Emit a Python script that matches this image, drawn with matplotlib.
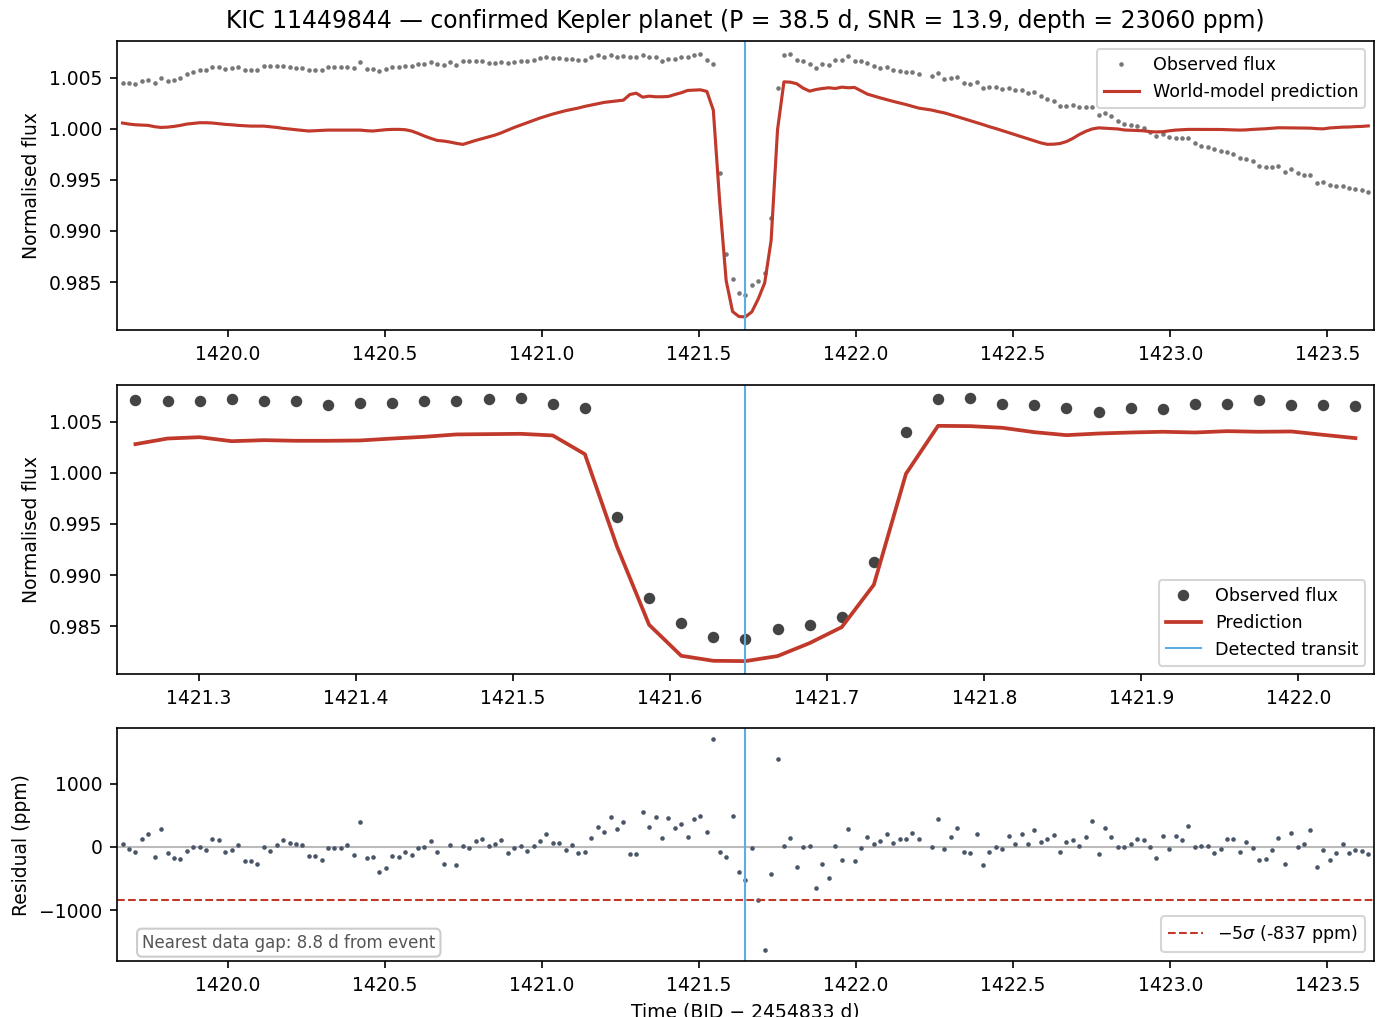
import matplotlib
matplotlib.use("Agg")
import matplotlib.pyplot as plt
import numpy as np

# Kepler long cadence around the detected event
T0 = 1421.648
CADENCE = 0.020434
cadence_index = np.arange(-97, 98)

obs_flux = [
    1.00444, 1.00444, 1.00441, 1.00467, 1.00480, 1.00444, 1.00496, 1.00467, 1.00477, 1.00499,
    1.00535, 1.00558, 1.00574, 1.00577, 1.00607, 1.00607, 1.00584, 1.00591, 1.00604, 1.00574,
    1.00574, 1.00574, 1.00614, 1.00610, 1.00617, 1.00614, 1.00601, 1.00594, 1.00591, 1.00574,
    1.00574, 1.00574, 1.00601, 1.00604, 1.00604, 1.00607, 1.00591, 1.00649, 1.00584, 1.00584,
    1.00565, 1.00584, 1.00607, 1.00607, 1.00614, 1.00614, 1.00630, 1.00636, 1.00653, 1.00638,
    1.00622, 1.00656, 1.00623, 1.00659, 1.00663, 1.00666, 1.00663, 1.00646, 1.00646, 1.00656,
    1.00640, 1.00653, 1.00666, 1.00666, 1.00676, 1.00689, 1.00705, 1.00689, 1.00689, 1.00679,
    1.00686, 1.00672, 1.00676, 1.00699, 1.00718, 1.00705, 1.00721, 1.00705,
    # in / around transit
    1.00707, 1.00704, 1.00704, 1.00723, 1.00700, 1.00700, 1.00664, 1.00687, 1.00687, 1.00704,
    1.00700, 1.00726, 1.00730, 1.00677, 1.00638, 0.99567, 0.98779, 0.98531, 0.98394, 0.98375,
    0.98469, 0.98508, 0.98590, 0.99124, 1.00394, 1.00723, 1.00733, 1.00674, 1.00661, 1.00635,
    1.00590, 1.00638, 1.00625, 1.00674, 1.00668, 1.00707, 1.00664, 1.00658, 1.00648,
    # after transit
    1.00614, 1.00597, 1.00601, 1.00571, 1.00561, 1.00555, 1.00552, 1.00535, np.nan, 1.00512,
    1.00548, 1.00490, 1.00499, 1.00503, 1.00451, 1.00434, 1.00457, 1.00395, 1.00405, 1.00405,
    1.00389, 1.00402, 1.00375, 1.00375, 1.00353, 1.00362, 1.00317, 1.00291, 1.00271, 1.00225,
    1.00222, 1.00229, 1.00216, 1.00209, 1.00216, 1.00137, 1.00154, 1.00121, 1.00077, 1.00048,
    1.00036, 1.00026, 1.00004, 0.99964, 0.99925, 0.99945, 0.99922, 0.99912, 0.99906, 0.99912,
    0.99857, 0.99834, 0.99818, 0.99798, 0.99782, 0.99776, 0.99753, 0.99710, 0.99704, 0.99681,
    0.99638, 0.99625, 0.99628, 0.99635, 0.99576, 0.99609, 0.99570, 0.99547, 0.99547, 0.99469,
    0.99475, 0.99446, 0.99443, 0.99443, 0.99420, 0.99410, 0.99397, 0.99377,
]

model_flux = [
    1.00056, 1.00046, 1.00039, 1.00036, 1.00033, 1.00020, 1.00013, 1.00016, 1.00023, 1.00033,
    1.00046, 1.00052, 1.00059, 1.00059, 1.00056, 1.00049, 1.00043, 1.00039, 1.00033, 1.00030,
    1.00026, 1.00026, 1.00026, 1.00020, 1.00013, 1.00004, 0.99997, 0.99991, 0.99984, 0.99978,
    0.99981, 0.99984, 0.99987, 0.99987, 0.99987, 0.99987, 0.99987, 0.99987, 0.99981, 0.99978,
    0.99984, 0.99991, 0.99994, 0.99994, 0.99991, 0.99978, 0.99955, 0.99929, 0.99906, 0.99886,
    0.99880, 0.99870, 0.99857, 0.99847, 0.99867, 0.99886, 0.99903, 0.99919, 0.99938, 0.99961,
    0.99987, 1.00013, 1.00036, 1.00059, 1.00082, 1.00105, 1.00124, 1.00144, 1.00160, 1.00177,
    1.00190, 1.00203, 1.00219, 1.00232, 1.00245, 1.00258, 1.00265, 1.00271,
    # in / around transit
    1.00280, 1.00335, 1.00348, 1.00309, 1.00319, 1.00313, 1.00313, 1.00316, 1.00335, 1.00352,
    1.00375, 1.00378, 1.00381, 1.00365, 1.00182, 0.99280, 0.98515, 0.98212, 0.98163, 0.98160,
    0.98209, 0.98336, 0.98492, 0.98906, 0.99990, 1.00459, 1.00456, 1.00440, 1.00397, 1.00368,
    1.00384, 1.00394, 1.00401, 1.00394, 1.00407, 1.00401, 1.00404, 1.00371, 1.00339,
    # after transit
    1.00320, 1.00302, 1.00285, 1.00268, 1.00253, 1.00237, 1.00219, 1.00202, 1.00192, 1.00183,
    1.00168, 1.00155, 1.00137, 1.00118, 1.00099, 1.00080, 1.00061, 1.00041, 1.00020, 1.00002,
    0.99982, 0.99963, 0.99943, 0.99923, 0.99903, 0.99883, 0.99862, 0.99848, 0.99849, 0.99856,
    0.99875, 0.99906, 0.99944, 0.99975, 0.99998, 1.00009, 1.00005, 1.00000, 0.99998, 0.99988,
    0.99986, 0.99983, 0.99980, 0.99972, 0.99969, 0.99971, 0.99980, 0.99987, 0.99991, 0.99994,
    0.99994, 0.99994, 0.99994, 0.99994, 0.99993, 0.99991, 0.99990, 0.99987, 0.99989, 0.99994,
    0.99997, 1.00000, 1.00005, 1.00010, 1.00009, 1.00007, 1.00007, 1.00007, 1.00006, 1.00001,
    0.99999, 1.00008, 1.00012, 1.00016, 1.00017, 1.00021, 1.00023, 1.00028,
]

residual_ppm = [
    53, -37, -85, 122, 206, -153, 280, -101, -169, -190,
    -58, -5, -5, -42, 122, 116, -79, -42, 37, -228,
    -228, -270, -5, -58, 32, 111, 63, 42, 32, -138,
    -143, -206, -16, -11, -16, 37, -132, 392, -169, -153,
    -392, -333, -148, -153, -74, -127, -11, 0, 101, -79,
    -265, 37, -291, 21, -16, 95, 127, 11, 48, 106,
    -95, -16, 11, -58, 11, 95, 212, 69, 69, -53,
    26, -90, -79, 143, 317, 233, 471, 291,
    397, -106, -106, 550, 317, 471, 148, 455, 302, 360,
    159, 439, 497, 238, 1709, -74, -159, 492, -397, -524,
    -16, -831, -1635, -429, 1397, 11, 143, -323, -5, 21,
    -656, -275, -492, 21, -212, 280, -228, -16, 164,
    53, 90, 206, 58, 122, 122, 217, 132, np.nan, 0,
    444, -37, 159, 307, -74, -95, 201, -291, -74, -5,
    -26, 169, 48, 201, 48, 270, 74, 127, 185, -74,
    74, 106, 11, 153, 418, -116, 307, 153, -5, -5,
    48, 127, 116, -5, -175, 169, -37, 169, 106, 328,
    -5, 21, 21, -95, -32, 127, 122, -74, 79, -16,
    -206, -190, -42, 143, -275, 228, -5, 42, 265, -312,
    -48, -212, -101, 48, -101, -48, -63, -106,
]

sigma5_ppm = -837
gap_days = 8.8
half_window = 2.0
zoom_half_window = 0.4
zoom_points = 19

t = T0 + CADENCE * cadence_index
obs = np.array(obs_flux)
model = np.array(model_flux)
resid = np.array(residual_ppm, dtype=float)

RED = '#c0392b'
BLUE = '#5dade2'

plt.rcParams['font.family'] = 'DejaVu Sans'
plt.rcParams['font.size'] = 9

fig = plt.figure(figsize=(1379 / 150, 1017 / 150), dpi=150)
ax1 = fig.add_axes([0.0848, 0.6755, 0.9115, 0.2845])
ax2 = fig.add_axes([0.0848, 0.3370, 0.9115, 0.2848])
ax3 = fig.add_axes([0.0848, 0.0551, 0.9115, 0.2288])

# Full window
ax1.plot(t, obs, 'o', color='#777777', ms=2.2, mec='none', label='Observed flux')
ax1.plot(t, model, '-', color=RED, lw=1.5, label='World-model prediction')
ax1.axvline(T0, color=BLUE, lw=1.0)
ax1.set_xlim(T0 - half_window, T0 + half_window)
ax1.set_ylabel('Normalised flux')
ax1.set_title('KIC 11449844 \u2014 confirmed Kepler planet (P = 38.5 d, SNR = 13.9, depth = 23060 ppm)',
              fontsize=11.3)
ax1.legend(loc='upper right', fontsize=8.4)

# Zoom on the transit
sel = np.abs(cadence_index) <= zoom_points
ax2.plot(t[sel], obs[sel], 'o', color='#444444', ms=5.5, mec='none', label='Observed flux')
ax2.plot(t[sel], model[sel], '-', color=RED, lw=1.8, label='Prediction')
ax2.axvline(T0, color=BLUE, lw=1.0, label='Detected transit')
ax2.set_xlim(T0 - zoom_half_window, T0 + zoom_half_window)
ax2.set_ylim(ax1.get_ylim())
ax2.set_ylabel('Normalised flux')
ax2.legend(loc='lower right', fontsize=8.4)

# Residuals
ax3.axhline(0, color='#bbbbbb', lw=1.0)
ax3.plot(t, resid, 'o', color='#4a5568', ms=2.2, mec='none')
ax3.axhline(sigma5_ppm, color=RED, ls='--', lw=1.0, label=r'$-5\sigma$ (%d ppm)' % sigma5_ppm)
ax3.axvline(T0, color=BLUE, lw=1.0)
ax3.set_xlim(T0 - half_window, T0 + half_window)
ax3.set_ylabel('Residual (ppm)')
ax3.set_xlabel('Time (BJD \u2212 2454833 d)')
ax3.legend(loc='lower right', fontsize=8.4)
ax3.text(0.02, 0.04, 'Nearest data gap: %.1f d from event' % gap_days, transform=ax3.transAxes,
         fontsize=8, color='#555555', va='bottom', ha='left',
         bbox=dict(boxstyle='round,pad=0.3', fc='white', ec='#cccccc'))

fig.savefig('out.png', dpi=150)
